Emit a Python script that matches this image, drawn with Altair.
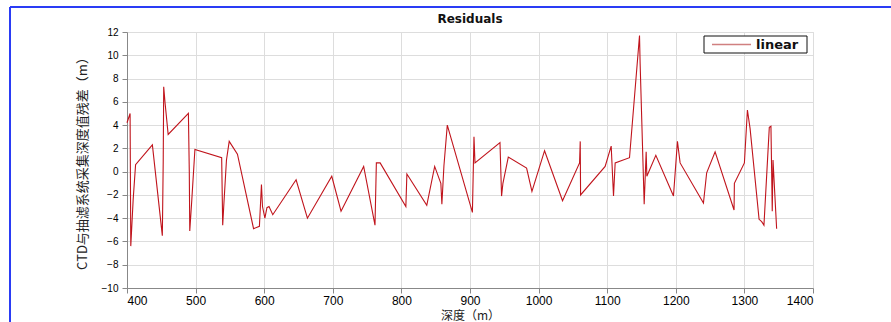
import altair as alt
import pandas as pd

depth = [400, 404.5, 405.5, 407, 409, 412.5, 437, 451.5, 452.8, 453.5, 455.5, 460,
         489.5, 490.8, 491.5, 494.5, 499, 538, 539.5, 541, 545, 549, 561, 584.5, 593,
         596, 597.5, 601, 604, 607, 612.5, 646.5, 663, 698.5, 712, 745, 761.5, 763.5,
         769, 806.5, 808, 837, 848.5, 857.5, 859, 862, 866.9, 903.5, 905.8, 907.3,
         943.7, 946, 948, 955.8, 982.5, 990.3, 1008.7, 1034.9, 1059.7, 1060.7, 1061.2,
         1097, 1105.8, 1109.2, 1111.6, 1132.5, 1147.1, 1148, 1153.9, 1156.8, 1157.8,
         1170.9, 1196.6, 1202.4, 1206.3, 1240.3, 1245, 1257.3, 1284.9, 1285.4, 1300,
         1304.4, 1308.3, 1321.4, 1325.2, 1328.5, 1336.3, 1338.7, 1340.6, 1341.7, 1347]
residual = [4.2, 5.0, -6.4, -4.7, -2.4, 0.6, 2.3, -5.5, 0.9, 7.3, 5.9, 3.2,
            5.0, 0.0, -5.1, -2.4, 1.9, 1.2, -4.6, -3.0, 1.0, 2.6, 1.5, -4.9, -4.7,
            -1.1, -3.0, -4.0, -3.1, -3.0, -3.7, -0.7, -4.0, -0.4, -3.4, 0.45, -4.6, 0.75,
            0.75, -3.0, -0.2, -2.9, 0.45, -1.0, -2.8, 0.5, 4.0, -3.5, 3.0, 0.75,
            2.5, -2.1, -1.0, 1.25, 0.3, -1.7, 1.8, -2.5, 0.75, 2.6, -2.0,
            0.45, 2.2, -2.1, 0.75, 1.2, 11.7, 9.3, -2.8, 1.7, -0.4,
            1.4, -2.1, 2.6, 0.75, -2.7, -0.1, 1.7, -3.3, -1.0, 0.75,
            5.3, 3.7, -4.1, -4.3, -4.6, 3.8, 3.9, -3.4, 1.0, -4.9]
series_name = "linear"
title_text = "Residuals"

x_ticks = list(range(400, 1401, 100))
y_ticks = list(range(-10, 13, 2))

df = pd.DataFrame({"depth": depth, "residual": residual})
one = pd.DataFrame({"label": [series_name], "title": [title_text]})

RED = "#c0141c"
BLUE = "#2a3cf5"
FONT = "DejaVu Sans"

line = alt.Chart(df).mark_line(strokeWidth=1.1, color=RED).encode(
    x=alt.X("depth:Q",
            scale=alt.Scale(domain=[400, 1400], nice=False, zero=False),
            axis=alt.Axis(values=x_ticks, title="深度（m）", format="d",
                          labelFontSize=12,
                          titleFont="Noto Sans CJK SC", titleFontSize=12,
                          titleFontWeight="normal", titleColor="#222",
                          titleBaseline="bottom", titleY=34, labelPadding=2)),
    y=alt.Y("residual:Q",
            scale=alt.Scale(domain=[-10, 12], nice=False, zero=False),
            axis=alt.Axis(values=y_ticks, title="CTD与抽滤系统采集深度值残差（m）",
                          titleFont="Noto Sans CJK SC", titleFontSize=13,
                          titleFontWeight="normal", titleColor="#222",
                          titlePadding=12, labelPadding=4)),
)

# legend box (decoration)
leg_box = alt.Chart(one).mark_rect(fill="white", stroke="#111", strokeWidth=1).encode(
    x=alt.value(577), x2=alt.value(680), y=alt.value(4), y2=alt.value(21))
leg_line = alt.Chart(one).mark_rule(color="#d08080", strokeWidth=1.5).encode(
    x=alt.value(585), x2=alt.value(624), y=alt.value(12.5))
leg_text = alt.Chart(one).mark_text(align="left", baseline="middle", font=FONT,
                                    fontSize=13, fontWeight="bold", color="#111").encode(
    x=alt.value(629), y=alt.value(13), text="label:N")

title = alt.Chart(one).mark_text(align="center", baseline="middle", font=FONT,
                                 fontSize=12, fontWeight="bold", color="#111").encode(
    x=alt.value(343), y=alt.value(-13), text="title:N")

frame_top = alt.Chart(one).mark_rule(color=BLUE, strokeWidth=2).encode(
    x=alt.value(-117), x2=alt.value(764), y=alt.value(-25))
frame_left = alt.Chart(one).mark_rule(color=BLUE, strokeWidth=2).encode(
    x=alt.value(-117), y=alt.value(-25), y2=alt.value(300))

chart = alt.layer(line, leg_box, leg_line, leg_text, title, frame_top, frame_left).properties(
    width=686, height=256,
    autosize=alt.AutoSizeParams(type="none"),
    padding={"left": 127, "top": 32, "right": 78, "bottom": 34},
).configure_view(
    stroke="#444", strokeWidth=1
).configure_axis(
    grid=True, gridDash=[1, 2], gridColor="#888", gridWidth=1,
    domain=False, ticks=False,
    labelFont=FONT, labelFontSize=13, labelFontWeight="bold", labelColor="#111",
).configure(background="white")

chart.save("out.html", embed_options={"renderer": "svg", "actions": False})
